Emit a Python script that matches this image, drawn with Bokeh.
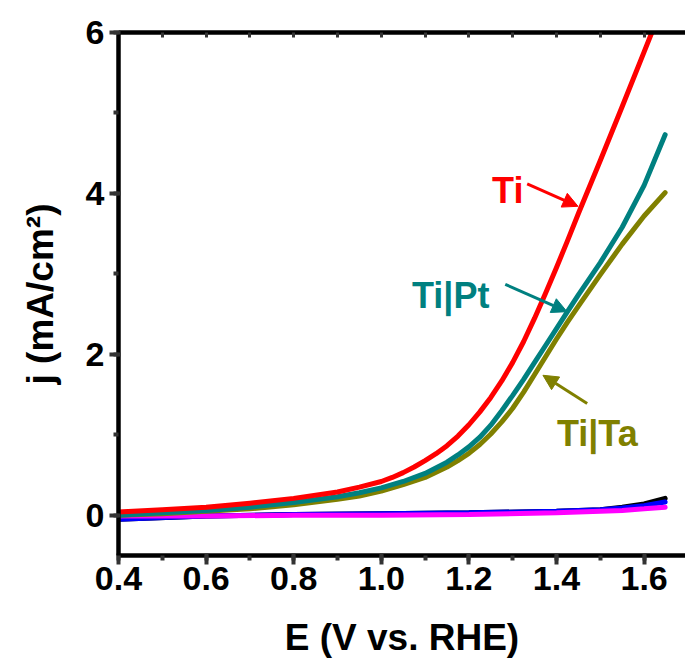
from bokeh.plotting import figure
from bokeh.models import (Range1d, LinearAxis, SingleIntervalTicker, FixedTicker,
                          NumeralTickFormatter, Arrow, NormalHead, ColumnDataSource)
from bokeh.core.properties import value
from bokeh.embed import file_html
from bokeh.resources import INLINE

# Anodic sweeps: potential (V vs. RHE) and current density (mA/cm2)
E_ti = [0.40, 0.50, 0.60, 0.70, 0.80, 0.90, 0.95, 1.000, 1.025, 1.050, 1.075,
        1.100, 1.125, 1.150, 1.175, 1.200, 1.225, 1.250, 1.275, 1.300, 1.325,
        1.350, 1.375, 1.400, 1.425, 1.450, 1.475, 1.500, 1.550, 1.600, 1.650]
j_ti = [0.04, 0.07, 0.10, 0.15, 0.21, 0.29, 0.35, 0.42, 0.47, 0.53, 0.60,
        0.68, 0.765, 0.865, 0.985, 1.125, 1.285, 1.465, 1.67, 1.90, 2.16,
        2.45, 2.76, 3.08, 3.41, 3.75, 4.08, 4.41, 5.08, 5.76, 6.44]

E_tipt = [0.40, 0.50, 0.60, 0.70, 0.80, 0.90, 0.95, 1.000, 1.050, 1.100, 1.150,
          1.175, 1.200, 1.225, 1.250, 1.275, 1.300, 1.325, 1.350, 1.375, 1.400,
          1.425, 1.450, 1.500, 1.550, 1.600, 1.648]
j_tipt = [0.00, 0.03, 0.06, 0.10, 0.16, 0.23, 0.28, 0.34, 0.42, 0.52, 0.66,
          0.75, 0.85, 0.97, 1.12, 1.30, 1.49, 1.69, 1.90, 2.11, 2.32,
          2.53, 2.74, 3.14, 3.58, 4.10, 4.73]

E_tita = [0.40, 0.50, 0.60, 0.70, 0.80, 0.90, 0.95, 1.000, 1.050, 1.100, 1.150,
          1.175, 1.200, 1.225, 1.250, 1.275, 1.300, 1.325, 1.350, 1.375, 1.400,
          1.425, 1.450, 1.500, 1.550, 1.600, 1.648]
j_tita = [0.00, 0.02, 0.05, 0.08, 0.13, 0.20, 0.24, 0.30, 0.38, 0.47, 0.60,
          0.68, 0.77, 0.88, 1.01, 1.16, 1.33, 1.53, 1.75, 1.97, 2.19,
          2.40, 2.60, 2.99, 3.37, 3.72, 4.01]

# Background (blank) sweeps, nearly flat
E_low = [0.40, 0.60, 0.80, 1.00, 1.20, 1.40, 1.50, 1.55, 1.60, 1.648]
j_black = [-0.05, -0.01, 0.01, 0.02, 0.03, 0.05, 0.07, 0.10, 0.14, 0.21]
j_blue = [-0.05, -0.01, 0.01, 0.02, 0.03, 0.05, 0.07, 0.09, 0.12, 0.165]
j_magenta = [-0.01, -0.01, 0.00, 0.00, 0.01, 0.03, 0.05, 0.06, 0.08, 0.10]

# Curve labels: text, anchor (left/baseline) and arrow tail -> head
labels = ["Ti", "Ti|Pt", "Ti|Ta"]
label_x = [1.253, 1.070, 1.401]
label_y = [4.04, 2.73, 1.02]
arrow_x0 = [1.333, 1.283, 1.470]
arrow_y0 = [4.12, 2.87, 1.39]
arrow_x1 = [1.449, 1.424, 1.369]
arrow_y1 = [3.84, 2.53, 1.74]
label_colors = ["#FF0000", "#008080", "#808000"]

# Tick marks along the top edge (every 0.1 V)
top_ticks = [0.4, 0.5, 0.6, 0.7, 0.8, 0.9, 1.0, 1.1, 1.2, 1.3, 1.4, 1.5, 1.6]

FONT = "Liberation Sans"
TICK_COLOR = "#333333"

p = figure(width=685, height=664, output_backend="svg", toolbar_location=None,
           x_range=Range1d(0.4, 1.6945), y_range=Range1d(-0.5, 6.0),
           min_border_left=118, min_border_right=0, min_border_top=32,
           min_border_bottom=109)
p.outline_line_color = None
p.xgrid.visible = False
p.ygrid.visible = False

p.xaxis.ticker = SingleIntervalTicker(interval=0.2, num_minor_ticks=2)
p.yaxis.ticker = SingleIntervalTicker(interval=2, num_minor_ticks=2)
p.xaxis.formatter = NumeralTickFormatter(format="0.0")

for axes in (p.xaxis, p.yaxis):
    axes.axis_line_width = 4.5
    axes.major_tick_out = 9
    axes.major_tick_line_width = 4
    axes.major_tick_line_color = TICK_COLOR
    axes.minor_tick_out = 5
    axes.minor_tick_line_width = 4
    axes.minor_tick_line_color = TICK_COLOR
    axes.major_label_text_font = FONT
    axes.major_label_text_font_style = "bold"
    axes.major_label_text_font_size = "34px"
    axes.major_label_text_color = "black"
    axes.axis_label_text_font = FONT
    axes.axis_label_text_font_style = "bold"
    axes.axis_label_text_font_size = "37px"
    axes.axis_label_text_color = "black"

p.xaxis.axis_label = "E (V vs. RHE)"
p.yaxis.axis_label = "j (mA/cm²)"
p.xaxis.major_label_standoff = 2
p.yaxis.major_label_standoff = 5
p.xaxis.axis_label_standoff = 24
p.yaxis.axis_label_standoff = 22

top = LinearAxis(ticker=FixedTicker(ticks=[], minor_ticks=top_ticks),
                 axis_line_width=4.5, major_tick_out=0,
                 minor_tick_in=5, minor_tick_out=0, minor_tick_line_width=3,
                 minor_tick_line_color=TICK_COLOR)
p.add_layout(top, "above")

# Blank sweeps
p.line(E_low, j_black, line_color="black", line_width=5, line_cap="round")
p.line(E_low, j_blue, line_color="#0000FF", line_width=5, line_cap="round")
p.line(E_low, j_magenta, line_color="#FF00FF", line_width=5, line_cap="round")

# Electrode sweeps
p.line(E_tita, j_tita, line_color="#808000", line_width=5, line_cap="round",
       line_join="round")
p.line(E_tipt, j_tipt, line_color="#008080", line_width=5, line_cap="round",
       line_join="round")
p.line(E_ti, j_ti, line_color="#FF0000", line_width=5, line_cap="round",
       line_join="round")

src = ColumnDataSource(dict(x=label_x, y=label_y, t=labels, c=label_colors))
p.text(x="x", y="y", text="t", text_color="c", source=src,
       text_font=value(FONT), text_font_style="bold", text_font_size="36px",
       text_align="left", text_baseline="alphabetic")

for x0, y0, x1, y1, c in zip(arrow_x0, arrow_y0, arrow_x1, arrow_y1, label_colors):
    p.add_layout(Arrow(end=NormalHead(size=15, fill_color=c, line_color=c, line_width=1),
                       x_start=x0, y_start=y0, x_end=x1, y_end=y1,
                       line_color=c, line_width=3))

open("out.html", "w").write(file_html(p, INLINE))
